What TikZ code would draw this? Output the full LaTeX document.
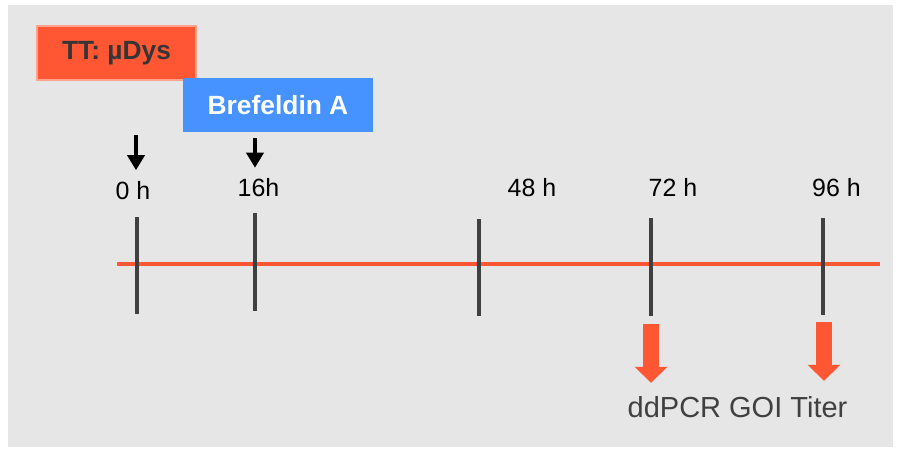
\documentclass[tikz,border=0pt]{standalone}
\usepackage{fontspec}
\setmainfont{Liberation Sans}
\usepackage{tikz}
\usetikzlibrary{positioning,arrows.meta}
\definecolor{tomato}{HTML}{FF5733}
\definecolor{brefblue}{HTML}{4692FF}
\definecolor{panel}{HTML}{E6E6E6}
\definecolor{ink}{HTML}{404040}
\definecolor{boxink}{HTML}{353535}
\tikzset{every picture/.style={line width=0.8pt}}

\begin{document}
\begin{tikzpicture}[
    tick/.style={draw=ink, line width=2.3pt},
    timeline/.style={draw=tomato, line width=2pt},
    drop/.style={-{Triangle[width=0.34cm,length=0.3cm]}, line width=2pt, black, shorten >=0.2cm},
    readout/.style={-{Triangle[width=0.64cm,length=0.32cm]}, line width=0.32cm, draw=tomato, fill=tomato},
    tlabel/.style={font=\fontsize{14.2}{17}\selectfont, anchor=base, inner sep=0pt},
    treat/.style={rectangle, minimum height=1.08cm, inner sep=0pt, font=\bfseries\fontsize{15}{18}\selectfont}
]
    % Background panel
    \useasboundingbox (0,0) rectangle (17.94,9.02);
    \fill[panel] (0.16,0.08) rectangle (17.86,8.92);

    % Treatments
    \node[treat, fill=tomato, draw=tomato!55!white, line width=0.6pt, text=boxink, minimum width=3.18cm] (tt) at (2.33,7.96) {TT: µDys};
    \node[treat, fill=brefblue, text=white, minimum width=3.8cm] (bref) at (5.56,6.92) {Brefeldin A};

    % Time axis
    \draw[timeline] (2.34,3.74) -- (17.6,3.74);
    \foreach \x/\a/\b in {2.74/4.68/2.74, 5.10/4.76/2.80, 9.58/4.64/2.70, 13.02/4.66/2.70, 16.46/4.66/2.72} {
        \draw[tick] (\x,\a) -- (\x,\b);
    }

    % Time point labels
    \foreach \x/\y/\t/\n in {2.66/5.04/0 h/t0, 5.17/5.09/16h/t16, 10.64/5.09/48 h/t48, 13.46/5.09/72 h/t72, 16.73/5.09/96 h/t96} {
        \node[tlabel] (\n) at (\x,\y) {\t};
    }

    % Addition markers
    \coordinate (add0) at (2.72,6.32);
    \coordinate (add16) at (5.10,6.26);
    \draw[drop] (add0) -- (add0 |- t0.north);
    \draw[drop] (add16) -- (add16 |- t16.north);

    % Readout
    \node[anchor=base, inner sep=0pt, text=ink, font=\fontsize{16.5}{20}\selectfont] (assay) at (14.75,0.68) {ddPCR GOI Titer};
    \coordinate (s72) at (13.02,2.54);
    \coordinate (s96) at (16.48,2.58);
    \draw[readout, shorten >=0.25cm] (s72) -- (s72 |- assay.north);
    \draw[readout, shorten >=0.29cm] (s96) -- (s96 |- assay.north);
\end{tikzpicture}
\end{document}
